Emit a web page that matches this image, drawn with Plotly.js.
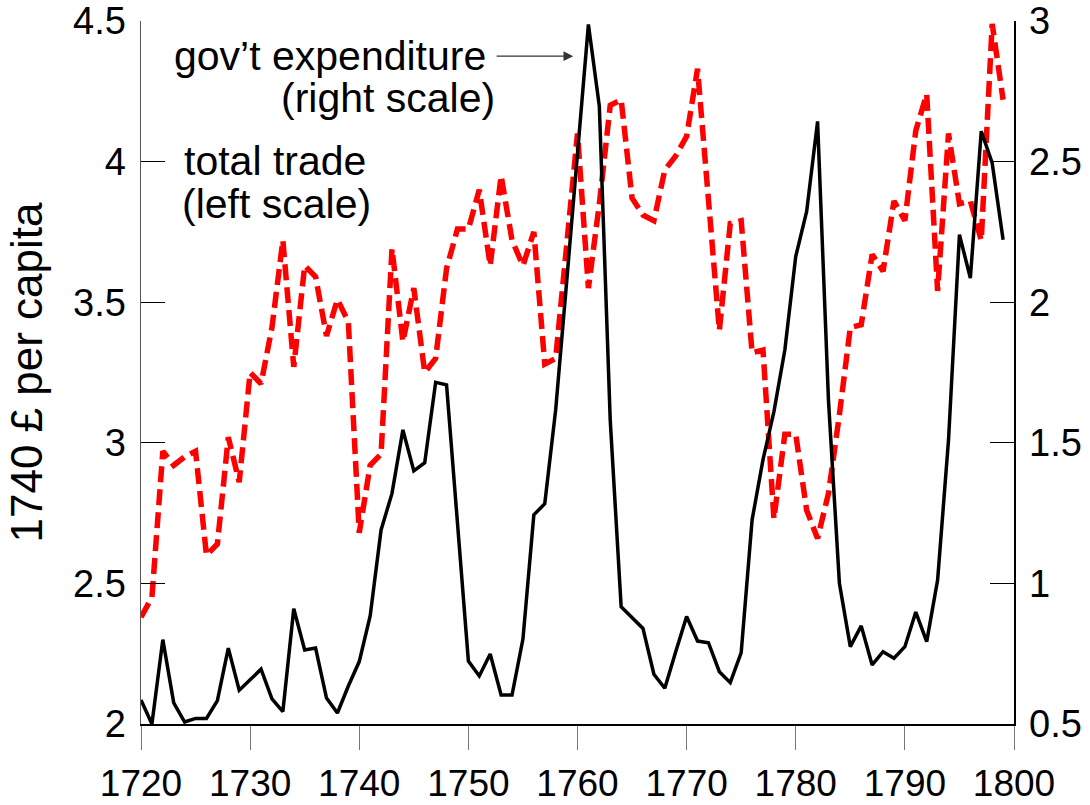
<!DOCTYPE html>
<html>
<head>
<meta charset="utf-8">
<script src="https://cdn.plot.ly/plotly-3.0.1.min.js"></script>
<style>html,body{margin:0;padding:0;background:#fff;}#chart{width:1090px;height:805px;}</style>
</head>
<body>
<div id="chart"></div>
<script>
const years = [];
for (let y = 1720; y <= 1799; y++) years.push(y);

// total trade, 1740 £ per capita (left scale)
const totalTrade = [
  2.38, 2.45, 2.97, 2.92, 2.95, 2.97, 2.60, 2.64, 3.02, 2.86,
  3.25, 3.21, 3.41, 3.72, 3.27, 3.63, 3.59, 3.38, 3.51, 3.43,
  2.68, 2.92, 2.96, 3.69, 3.36, 3.55, 3.25, 3.30, 3.62, 3.76,
  3.76, 3.90, 3.63, 3.95, 3.72, 3.63, 3.75, 3.28, 3.30, 3.70,
  4.10, 3.55, 3.85, 4.20, 4.22, 3.87, 3.81, 3.79, 3.97, 4.02,
  4.09, 4.33, 3.86, 3.40, 3.78, 3.79, 3.32, 3.33, 2.73, 3.03,
  3.03, 2.76, 2.66, 2.82, 3.10, 3.41, 3.42, 3.67, 3.61, 3.86,
  3.79, 4.11, 4.24, 3.54, 4.10, 3.85, 3.86, 3.72, 4.49, 4.22
];

// government expenditure (right scale)
const govExpenditure = [
  0.585, 0.50, 0.80, 0.575, 0.507, 0.52, 0.52, 0.583, 0.77, 0.62,
  0.657, 0.695, 0.589, 0.544, 0.91, 0.763, 0.77, 0.592, 0.539, 0.635,
  0.722, 0.884, 1.19, 1.32, 1.546, 1.40, 1.429, 1.715, 1.706, 1.215,
  0.724, 0.671, 0.749, 0.603, 0.603, 0.802, 1.244, 1.283, 1.617, 2.07,
  2.53, 2.988, 2.697, 1.58, 0.917, 0.88, 0.84, 0.677, 0.627, 0.757,
  0.882, 0.795, 0.789, 0.686, 0.647, 0.754, 1.226, 1.44, 1.611, 1.83,
  2.163, 2.323, 2.643, 1.65, 1.0, 0.775, 0.849, 0.71, 0.757, 0.734,
  0.775, 0.898, 0.793, 1.012, 1.51, 2.24, 2.086, 2.608, 2.495, 2.222
];

const leftTicks = [2, 2.5, 3, 3.5, 4, 4.5];
const rightTicks = [0.5, 1, 1.5, 2, 2.5, 3];
const xTicks = [1720, 1730, 1740, 1750, 1760, 1770, 1780, 1790, 1800];

const FONT = 'Liberation Sans, Arial, Helvetica, sans-serif';

const traces = [
  {
    x: years, y: totalTrade, type: 'scatter', mode: 'lines',
    name: 'total trade', yaxis: 'y',
    line: {color: '#ff0000', width: 5.5, dash: '16px,7px'},
    hoverinfo: 'skip'
  },
  {
    x: years, y: govExpenditure, type: 'scatter', mode: 'lines',
    name: "gov't expenditure", yaxis: 'y2',
    line: {color: '#000000', width: 3.5},
    hoverinfo: 'skip'
  }
];

const layout = {
  width: 1090, height: 805,
  margin: {l: 141, r: 76, t: 21, b: 81, pad: 0},
  paper_bgcolor: '#ffffff', plot_bgcolor: '#ffffff',
  showlegend: false,
  font: {family: FONT, color: '#000'},
  xaxis: {
    range: [1720, 1800], tickvals: xTicks, ticktext: xTicks.map(String),
    ticks: 'outside', ticklen: 24, tickwidth: 1, tickcolor: '#777',
    showline: true, linecolor: '#000', linewidth: 1.5,
    showgrid: false, zeroline: false,
    tickfont: {size: 37, family: FONT, color: '#000'},
    ticklabelstandoff: 2
  },
  yaxis: {
    range: [2, 4.5], tickvals: leftTicks, ticktext: leftTicks.map(String),
    ticks: 'inside', ticklen: 24, tickwidth: 1, tickcolor: '#000',
    showline: true, linecolor: '#555', linewidth: 1.5,
    showgrid: false, zeroline: false,
    tickfont: {size: 38, family: FONT, color: '#000'},
    ticklabelstandoff: 6,
    title: {text: '1740 £ per capita', font: {size: 44, family: FONT, color: '#000'}, standoff: 16}
  },
  yaxis2: {
    range: [0.5, 3], tickvals: rightTicks, ticktext: rightTicks.map(String),
    overlaying: 'y', side: 'right',
    ticks: 'inside', ticklen: 24, tickwidth: 1, tickcolor: '#000',
    showline: true, linecolor: '#000', linewidth: 1.5,
    showgrid: false, zeroline: false,
    tickfont: {size: 38, family: FONT, color: '#000'},
    ticklabelstandoff: 6
  },
  annotations: [
    {xref: 'paper', yref: 'paper', x: 0.3975, y: 0.950, xanchor: 'right', yanchor: 'middle',
     text: 'gov’t expenditure', showarrow: false, font: {size: 41, family: FONT, color: '#000'}},
    {xref: 'paper', yref: 'paper', x: 0.4078, y: 0.8905, xanchor: 'right', yanchor: 'middle',
     text: '(right scale)', showarrow: false, font: {size: 41, family: FONT, color: '#000'}},
    {xref: 'paper', yref: 'paper', x: 0.0466, y: 0.801, xanchor: 'left', yanchor: 'middle',
     text: 'total trade', showarrow: false, font: {size: 41, family: FONT, color: '#000'}},
    {xref: 'paper', yref: 'paper', x: 0.0447, y: 0.7397, xanchor: 'left', yanchor: 'middle',
     text: '(left scale)', showarrow: false, font: {size: 41, family: FONT, color: '#000'}},
    {xref: 'x', yref: 'y', x: 1759.6, y: 4.375, ax: -78, ay: 0, axref: 'pixel', ayref: 'pixel',
     text: '', showarrow: true, arrowhead: 2, arrowsize: 1.6, arrowwidth: 1.2, arrowcolor: '#333'}
  ]
};

Plotly.newPlot('chart', traces, layout, {staticPlot: true, displayModeBar: false});
</script>
</body>
</html>
